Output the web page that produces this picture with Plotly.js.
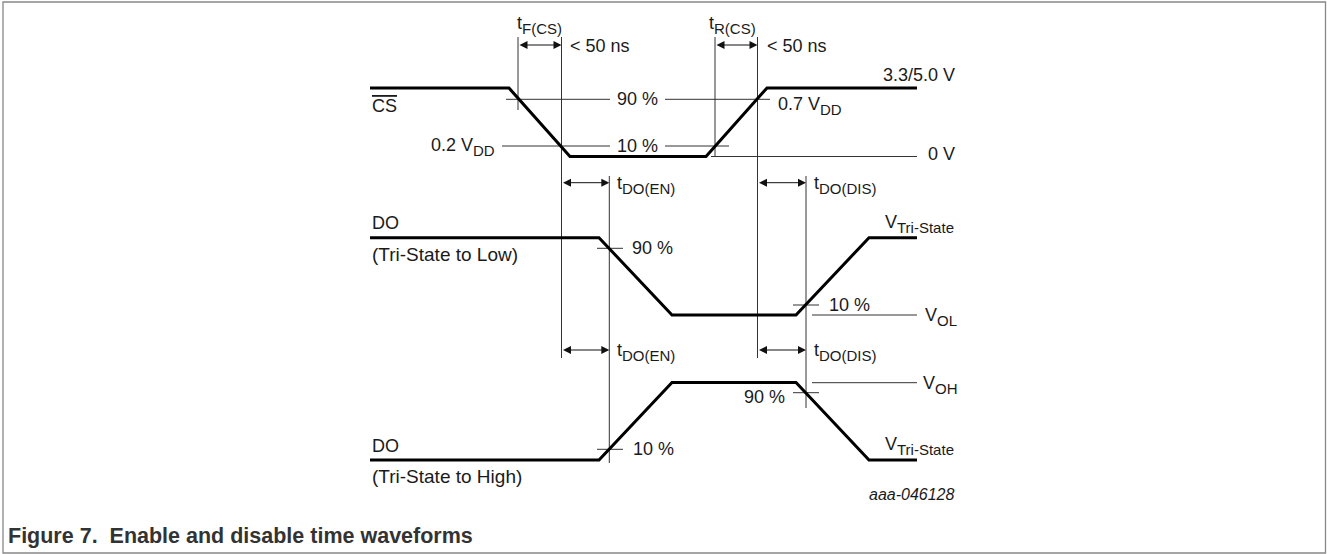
<!DOCTYPE html>
<html>
<head>
<meta charset="utf-8">
<script src="https://cdn.plot.ly/plotly-3.0.1.min.js"></script>
<style>html,body{margin:0;padding:0;background:#fff;}#chart{width:1327px;height:554px;}</style>
</head>
<body>
<div id="chart"></div>
<script>
// ---- waveform data (time position, level position) ----
const csTime = [370, 509, 570, 706, 767, 917];
const csLevel = [88, 88, 156.5, 156.5, 88, 88];
const doLowTime = [370, 599, 672, 796, 869, 917];
const doLowLevel = [237.7, 237.7, 315, 315, 237.7, 237.7];
const doHighTime = [370, 599, 672, 796, 869, 917];
const doHighLevel = [460, 460, 382.5, 382.5, 460, 460];

// ---- reference / measurement lines: [x0, y0, x1, y1] ----
const refX0 = [518, 561.5, 715, 757.5, 609.3, 806, 506, 665, 502, 665, 711, 597, 793, 812, 597, 793, 812];
const refY0 = [37, 37, 37, 37, 176, 176, 99.3, 99.3, 146, 146, 156.5, 248.3, 305, 315, 449.3, 392.7, 382.7];
const refX1 = [518, 561.5, 715, 757.5, 609.3, 806, 610, 770, 610, 729, 917, 623, 819, 917, 623, 819, 917];
const refY1 = [110, 358, 157, 358, 463, 408, 99.3, 99.3, 146, 146, 156.5, 248.3, 305, 315, 449.3, 392.7, 382.7];

// ---- timing arrows ----
const arrowX0 = [518, 715, 561.5, 757.5, 561.5, 757.5];
const arrowX1 = [561.5, 757.5, 609.3, 806, 609.3, 806];
const arrowY = [45, 45, 182.7, 182.7, 350, 350];

// ---- labels ----
const sub = s => '<span style="font-size:15px;baseline-shift:-5px">' + s + '</span>';
const labelText = [
  't' + sub('F(CS)'), '< 50 ns', 't' + sub('R(CS)'), '< 50 ns',
  '3.3/5.0 V', '0.7 V' + sub('DD'), '0 V', '0.2 V' + sub('DD'),
  '90 %', '10 %', '<span style="text-decoration:overline">CS</span>',
  'DO', '(Tri-State to Low)', 'DO', '(Tri-State to High)',
  't' + sub('DO(EN)'), 't' + sub('DO(DIS)'), 't' + sub('DO(EN)'), 't' + sub('DO(DIS)'),
  '90 %', 'V' + sub('Tri-State'), '10 %', 'V' + sub('OL'),
  '10 %', 'V' + sub('OH'), '90 %', 'V' + sub('Tri-State')
];
const labelX = [515, 568, 707, 765, 957, 776, 957, 497, 637, 637, 370,
  370, 370, 370, 370, 615, 812, 615, 812,
  630, 883, 827, 923, 631, 921, 787, 883];
const labelY = [25, 46, 25, 46, 75, 106, 154, 147, 99, 146, 106,
  223, 254, 446, 476, 185, 185, 352, 352,
  248, 224, 305, 317, 449, 385, 397, 446];
const labelAnchor = ['left', 'left', 'left', 'left', 'right', 'left', 'right', 'right', 'center', 'center', 'left',
  'left', 'left', 'left', 'left', 'left', 'left', 'left', 'left',
  'left', 'left', 'left', 'left', 'left', 'left', 'right', 'left'];
const labelSize = [18, 18, 18, 18, 18, 18, 18, 18, 18, 18, 18,
  18, 19, 18, 19, 18, 18, 18, 18,
  18, 18, 18, 18, 18, 18, 18, 18];

const figureId = 'aaa-046128';
const caption = 'Figure 7.  Enable and disable time waveforms';

const FONT = 'Liberation Sans, Arial, Helvetica, sans-serif';
const traces = [];
for (let i = 0; i < refX0.length; i++) {
  traces.push({x: [refX0[i], refX1[i]], y: [refY0[i], refY1[i]], mode: 'lines',
    line: {color: '#333', width: 1}, hoverinfo: 'skip', showlegend: false});
}
[[csTime, csLevel], [doLowTime, doLowLevel], [doHighTime, doHighLevel]].forEach(([t, v]) => {
  traces.push({x: t, y: v, mode: 'lines', line: {color: '#000', width: 3}, hoverinfo: 'skip', showlegend: false});
});

const annotations = [];
for (let i = 0; i < arrowY.length; i++) {
  annotations.push({x: arrowX1[i], y: arrowY[i], ax: arrowX0[i], ay: arrowY[i], xref: 'x', yref: 'y', axref: 'x', ayref: 'y',
    text: '', showarrow: true, arrowside: 'end+start', arrowhead: 2, startarrowhead: 2, arrowsize: 1.6, startarrowsize: 1.6,
    arrowwidth: 1, arrowcolor: '#111', standoff: 0, startstandoff: 0});
}
for (let i = 0; i < labelText.length; i++) {
  annotations.push({x: labelX[i], y: labelY[i], xref: 'x', yref: 'y', text: labelText[i], showarrow: false,
    xanchor: labelAnchor[i], yanchor: 'middle', font: {family: FONT, size: labelSize[i], color: '#1a1a1a'}});
}
annotations.push({x: 957, y: 494, xref: 'x', yref: 'y', text: '<i>' + figureId + '</i>', showarrow: false,
  xanchor: 'right', yanchor: 'middle', font: {family: FONT, size: 16, color: '#1a1a1a'}});
annotations.push({x: 6, y: 536, xref: 'x', yref: 'y', text: '<b>' + caption + '</b>', showarrow: false,
  xanchor: 'left', yanchor: 'middle', font: {family: FONT, size: 21.5, color: '#333'}});

const layout = {
  width: 1327, height: 554, margin: {l: 0, r: 0, t: 0, b: 0},
  paper_bgcolor: '#fff', plot_bgcolor: '#fff',
  xaxis: {range: [0, 1327], visible: false, fixedrange: true},
  yaxis: {range: [554, 0], visible: false, fixedrange: true},
  shapes: [{type: 'rect', xref: 'x', yref: 'y', x0: 3, y0: 2, x1: 1325.5, y1: 553, line: {color: '#888', width: 1.3}}],
  annotations: annotations
};
Plotly.newPlot('chart', traces, layout, {staticPlot: true, displayModeBar: false});
</script>
</body>
</html>
